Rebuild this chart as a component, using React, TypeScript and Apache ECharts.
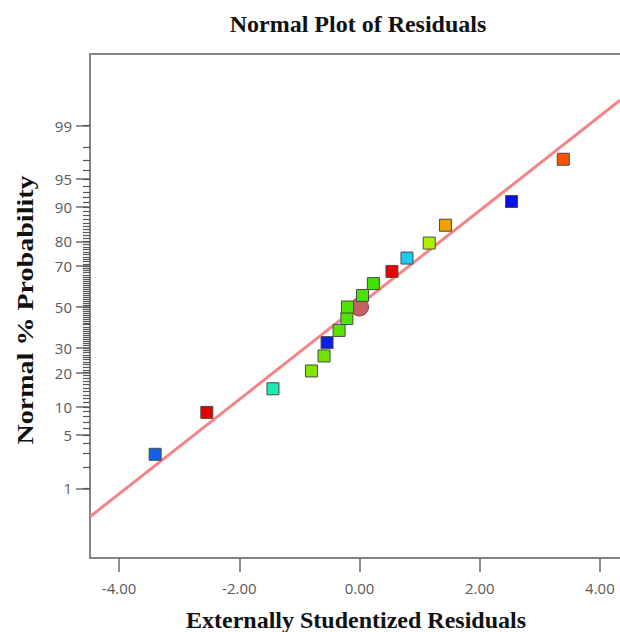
import React, { useEffect, useRef } from "react";
import * as echarts from "echarts";

// Externally studentized residuals (x) and their normal % probability (y)
const residuals = [-3.40, -2.54, -1.44, -0.80, -0.59, -0.54, -0.34, -0.21, -0.20, 0.05, 0.23, 0.54, 0.79, 1.16, 1.43, 2.53, 3.39];
const probabilities = [2.94, 8.82, 14.7, 20.6, 26.5, 32.4, 38.2, 44.1, 50.0, 55.9, 61.8, 67.6, 73.5, 79.4, 85.3, 91.2, 97.1];
const pointColors = [
  "#0f62e8", "#e40000", "#1ee8b4", "#84e400", "#6ee400", "#0522e0", "#58e400", "#4ee400", "#4ee400",
  "#46e400", "#3ee400", "#ec0000", "#1ec8f0", "#b2ee00", "#f0a000", "#0512e4", "#ff5200",
];
// highlighted centre marker [residual, probability %]
const highlightPoint = [0.0, 50];
// fitted reference line end points
const fitLineX = [-4.484, 4.334];
const fitLineProb = [0.357, 99.6];
// axis ticks
const yTickLabels = [1, 5, 10, 20, 30, 50, 70, 80, 90, 95, 99];
const yMinorTicks = [
  1, 2, 3, 4, 5, 6, 7, 8, 9, 10, 11, 12, 13, 14, 15, 16, 17, 18, 19, 20, 21, 22, 23, 24, 25, 26, 27, 28, 29, 30,
  31, 32, 33, 34, 35, 36, 37, 38, 39, 40, 41, 42, 43, 44, 45, 46, 47, 48, 49, 50, 51, 52, 53, 54, 55, 56, 57, 58,
  59, 60, 61, 62, 63, 64, 65, 66, 67, 68, 69, 70, 71, 72, 73, 74, 75, 76, 77, 78, 79, 80, 81, 82, 83, 84, 85, 86,
  87, 88, 89, 90, 91, 92, 93, 94, 95, 96, 97, 98, 99,
];
const xTickLabels = [-4, -2, 0, 2, 4];
const xRange = [-4.484, 4.334];
const zRange = [-3.22, 3.246];

// inverse standard normal CDF (Acklam) — the probability scale transform
function probit(pct: number): number {
  const p = pct / 100;
  const a = [-3.969683028665376e1, 2.209460984245205e2, -2.759285104469687e2, 1.38357751867269e2, -3.066479806614716e1, 2.506628277459239];
  const b = [-5.447609879822406e1, 1.615858368580409e2, -1.556989798598866e2, 6.680131188771972e1, -1.328068155288572e1];
  const c = [-7.784894002430293e-3, -3.223964580411365e-1, -2.400758277161838, -2.549732539343734, 4.374664141464968, 2.938163982698783];
  const d = [7.784695709041462e-3, 3.224671290700398e-1, 2.445134137142996, 3.754408661907416];
  const plow = 0.02425;
  const phigh = 1 - plow;
  let q: number, r: number;
  if (p < plow) {
    q = Math.sqrt(-2 * Math.log(p));
    return (((((c[0] * q + c[1]) * q + c[2]) * q + c[3]) * q + c[4]) * q + c[5]) / ((((d[0] * q + d[1]) * q + d[2]) * q + d[3]) * q + 1);
  }
  if (p > phigh) {
    q = Math.sqrt(-2 * Math.log(1 - p));
    return -(((((c[0] * q + c[1]) * q + c[2]) * q + c[3]) * q + c[4]) * q + c[5]) / ((((d[0] * q + d[1]) * q + d[2]) * q + d[3]) * q + 1);
  }
  q = p - 0.5;
  r = q * q;
  return ((((((a[0] * r + a[1]) * r + a[2]) * r + a[3]) * r + a[4]) * r + a[5]) * q) / (((((b[0] * r + b[1]) * r + b[2]) * r + b[3]) * r + b[4]) * r + 1);
}

const majorZ = yTickLabels.map(probit);
const minorZ = yMinorTicks.map(probit);

export default function App() {
  const ref = useRef<HTMLDivElement>(null);
  useEffect(() => {
    if (!ref.current) return;
    const chart = echarts.init(ref.current, null, { renderer: "svg" });
    const axisGray = "#858585";
    const labelFont = { color: "#5a5a5a", fontSize: 15, fontFamily: "Open Sans" };
    const option: any = {
      animation: false,
      backgroundColor: "#ffffff",
      grid: { left: 90, right: 0, top: 54, bottom: 74, containLabel: false },
      graphic: [
        {
          type: "text",
          x: 358,
          y: 24,
          style: {
            text: "Normal Plot of Residuals",
            font: "bold 24px 'Liberation Serif'",
            fill: "#111",
            textAlign: "center",
            textVerticalAlign: "middle",
          },
        },
        {
          type: "text",
          x: 356,
          y: 620,
          style: {
            text: "Externally Studentized Residuals",
            font: "bold 24px 'Liberation Serif'",
            fill: "#111",
            textAlign: "center",
            textVerticalAlign: "middle",
          },
        },
        {
          type: "text",
          x: 25,
          y: 310,
          rotation: Math.PI / 2,
          scaleX: 1.17,
          style: {
            text: "Normal % Probability",
            font: "bold 24px 'Liberation Serif'",
            fill: "#111",
            textAlign: "center",
            textVerticalAlign: "middle",
          },
        },
      ],
      xAxis: [
        {
          type: "value",
          position: "bottom",
          min: xRange[0],
          max: xRange[1],
          splitLine: { show: false },
          axisLine: { show: true, onZero: false, lineStyle: { color: axisGray, width: 2 } },
          axisTick: { show: true, length: 14, customValues: xTickLabels, lineStyle: { color: "#6a6a6a", width: 1.5 } },
          axisLabel: {
            show: true,
            margin: 22,
            customValues: xTickLabels,
            formatter: (v: number) => v.toFixed(2),
            ...labelFont,
          },
        },
        {
          type: "value",
          position: "top",
          min: xRange[0],
          max: xRange[1],
          splitLine: { show: false },
          axisLine: { show: true, onZero: false, lineStyle: { color: axisGray, width: 2 } },
          axisTick: { show: false },
          axisLabel: { show: false },
        },
      ],
      yAxis: [
        {
          type: "value",
          position: "left",
          min: zRange[0],
          max: zRange[1],
          splitLine: { show: false },
          axisLine: { show: true, onZero: false, lineStyle: { color: axisGray, width: 2 } },
          axisTick: { show: true, length: 14, customValues: majorZ, lineStyle: { color: "#6a6a6a", width: 1.5 } },
          axisLabel: {
            show: true,
            margin: 18,
            customValues: majorZ,
            formatter: (v: number) => {
              let best = 0;
              for (let i = 1; i < majorZ.length; i++) {
                if (Math.abs(majorZ[i] - v) < Math.abs(majorZ[best] - v)) best = i;
              }
              return String(yTickLabels[best]);
            },
            ...labelFont,
          },
        },
        {
          type: "value",
          position: "left",
          offset: 0,
          min: zRange[0],
          max: zRange[1],
          splitLine: { show: false },
          axisLine: { show: false, onZero: false },
          axisTick: { show: true, length: 7, customValues: minorZ, lineStyle: { color: "#555555", width: 1.2 } },
          axisLabel: { show: false },
        },
      ],
      series: [
        {
          type: "line",
          xAxisIndex: 0,
          yAxisIndex: 0,
          data: fitLineX.map((x, i) => [x, probit(fitLineProb[i])]),
          symbol: "none",
          lineStyle: { color: "#f38585", width: 3 },
          z: 1,
        },
        {
          type: "scatter",
          xAxisIndex: 0,
          yAxisIndex: 0,
          data: [[highlightPoint[0], probit(highlightPoint[1])]],
          symbol: "circle",
          symbolSize: 18,
          itemStyle: { color: "#c46262", borderColor: "#8e4040", borderWidth: 1, opacity: 1 },
          z: 2,
        },
        {
          type: "scatter",
          xAxisIndex: 0,
          yAxisIndex: 0,
          data: residuals.map((x, i) => ({
            value: [x, probit(probabilities[i])],
            itemStyle: { color: pointColors[i] },
          })),
          symbol: "rect",
          symbolSize: 12,
          itemStyle: { borderColor: "#4a4a4a", borderWidth: 1, opacity: 1 },
          z: 3,
        },
      ],
    };
    chart.setOption(option);
    return () => chart.dispose();
  }, []);
  return (
    <div
      ref={ref}
      style={{ position: "fixed", left: 0, top: 0, width: 620, height: 632, background: "#fff" }}
    />
  );
}
